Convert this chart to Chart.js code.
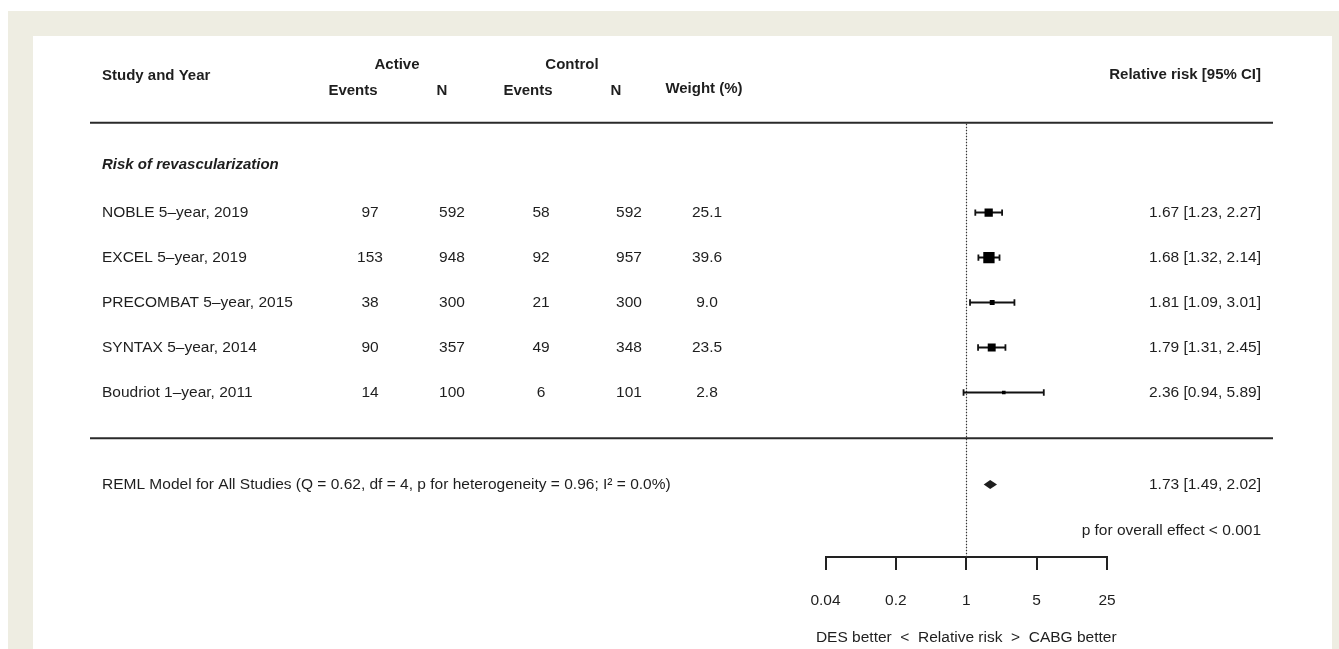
<!DOCTYPE html>
<html>
<head>
<meta charset="utf-8">
<title>Risk of revascularization</title>
<script src="https://cdn.jsdelivr.net/npm/chart.js@4.4.1/dist/chart.umd.min.js"></script>
<style>
  html, body { margin: 0; padding: 0; width: 1339px; height: 649px; overflow: hidden; background: #fff; }
  #frame { position: absolute; left: 8px; top: 11px; right: 0; bottom: 0; background: #eeede2; }
  #panel { position: absolute; left: 33px; top: 36px; width: 1299px; bottom: 0; background: #fff; }
  #wrap { position: absolute; left: 0; top: 0; width: 1339px; height: 649px; }
</style>
</head>
<body>
<div id="frame"></div>
<div id="panel"></div>
<div id="wrap"><canvas id="forest"></canvas></div>
<script>
// study data
const studies = ['NOBLE 5\u2013year, 2019', 'EXCEL 5\u2013year, 2019', 'PRECOMBAT 5\u2013year, 2015', 'SYNTAX 5\u2013year, 2014', 'Boudriot 1\u2013year, 2011'];
const activeEvents = [97, 153, 38, 90, 14];
const activeN = [592, 948, 300, 357, 100];
const controlEvents = [58, 92, 21, 49, 6];
const controlN = [592, 957, 300, 348, 101];
const weights = [25.1, 39.6, 9.0, 23.5, 2.8];
const rr = [1.67, 1.68, 1.81, 1.79, 2.36];
const rrLow = [1.23, 1.32, 1.09, 1.31, 0.94];
const rrHigh = [2.27, 2.14, 3.01, 2.45, 5.89];

// pooled estimate
const pooled = [1.73, 1.49, 2.02];
const reml = 'REML Model for All Studies (Q = 0.62, df = 4, p for heterogeneity = 0.96; I\u00b2 = 0.0%)';
const overall = 'p for overall effect < 0.001';

// axis
const tickValues = [0.04, 0.2, 1, 5, 25];
const tickLabels = ['0.04', '0.2', '1', '5', '25'];

const FONT = "'Liberation Sans', Arial, Helvetica, sans-serif";
const INK = '#1e1e1e';

const fmt = v => v.toFixed(2);

const tablePlugin = {
    id: 'forestTable',
    beforeDatasetsDraw(chart) {
        const { ctx, scales: { x, y } } = chart;
        // dotted no-effect line
        ctx.save();
        ctx.strokeStyle = '#333';
        ctx.lineWidth = 1.2;
        ctx.setLineDash([1.5, 1.5]);
        const x1 = Math.round(x.getPixelForValue(1)) + 0.5;
        ctx.beginPath();
        ctx.moveTo(x1, y.getPixelForValue(-1) + 1);
        ctx.lineTo(x1, y.bottom);
        ctx.stroke();
        ctx.restore();
    },
    afterDatasetsDraw(chart) {
        const { ctx, scales: { x, y } } = chart;
        const row = r => y.getPixelForValue(r);

        const text = (s, px, r, align, font) => {
            ctx.font = font || `15.5px ${FONT}`;
            ctx.textAlign = align || 'left';
            ctx.fillText(s, px, row(r));
        };

        ctx.save();
        ctx.fillStyle = INK;
        ctx.textBaseline = 'middle';

        const bold = `bold 15px ${FONT}`;
        // headers
        text('Study and Year', 102, -2.04, 'left', bold);
        text('Active', 397, -2.28, 'center', bold);
        text('Control', 572, -2.28, 'center', bold);
        text('Events', 353, -1.71, 'center', bold);
        text('N', 442, -1.71, 'center', bold);
        text('Events', 528, -1.71, 'center', bold);
        text('N', 616, -1.71, 'center', bold);
        text('Weight (%)', 704, -1.75, 'center', bold);
        text('Relative risk [95% CI]', 1261, -2.06, 'right', bold);

        // rules
        ctx.strokeStyle = '#2a2a2a';
        ctx.lineWidth = 2;
        [-1, 6.02].forEach(r => {
            ctx.beginPath();
            ctx.moveTo(90, row(r));
            ctx.lineTo(1273, row(r));
            ctx.stroke();
        });

        text('Risk of revascularization', 102, -0.06, 'left', `italic bold 15px ${FONT}`);

        studies.forEach((name, i) => {
            const r = i + 1;
            text(name, 102, r);
            text(String(activeEvents[i]), 370, r, 'center');
            text(String(activeN[i]), 452, r, 'center');
            text(String(controlEvents[i]), 541, r, 'center');
            text(String(controlN[i]), 629, r, 'center');
            text(weights[i].toFixed(1), 707, r, 'center');
            text(`${fmt(rr[i])} [${fmt(rrLow[i])}, ${fmt(rrHigh[i])}]`, 1261, r, 'right');
        });

        // pooled row
        text(reml, 102, 7.05);
        text(`${fmt(pooled[0])} [${fmt(pooled[1])}, ${fmt(pooled[2])}]`, 1261, 7.05, 'right');
        text(overall, 1261, 8.07, 'right');

        const yp = row(7.05);
        ctx.beginPath();
        ctx.moveTo(x.getPixelForValue(pooled[1]), yp);
        ctx.lineTo(x.getPixelForValue(pooled[0]), yp - 4.5);
        ctx.lineTo(x.getPixelForValue(pooled[2]), yp);
        ctx.lineTo(x.getPixelForValue(pooled[0]), yp + 4.5);
        ctx.closePath();
        ctx.fill();

        // axis caption
        ctx.font = `15.5px ${FONT}`;
        ctx.textAlign = 'center';
        ctx.fillText('DES better  <  Relative risk  >  CABG better', x.getPixelForValue(1), y.bottom + 81);
        ctx.restore();
    }
};

// confidence interval whiskers, one line per study
const whiskers = studies.map((name, i) => ({
    type: 'line',
    label: name,
    data: [{ x: rrLow[i], y: i + 1 }, { x: rrHigh[i], y: i + 1 }],
    borderColor: '#111',
    borderWidth: 2,
    pointStyle: 'line',
    pointRotation: 90,
    pointRadius: 3.2,
    pointBorderWidth: 1.8,
    pointBorderColor: '#111'
}));

new Chart(document.getElementById('forest'), {
    type: 'scatter',
    data: {
        datasets: [{
            label: 'Relative risk',
            data: rr.map((v, i) => ({ x: v, y: i + 1 })),
            pointStyle: 'rect',
            pointRadius: weights.map(w => (3 + 0.21 * w) / Math.SQRT2),
            backgroundColor: '#000',
            borderColor: '#000',
            borderWidth: 0
        }, ...whiskers]
    },
    options: {
        responsive: true,
        maintainAspectRatio: false,
        animation: false,
        events: [],
        layout: { padding: { left: 825.5, right: 232, top: 122.7, bottom: 0 } },
        plugins: { legend: { display: false }, tooltip: { enabled: false } },
        scales: {
            x: {
                type: 'logarithmic',
                position: 'bottom',
                min: tickValues[0],
                max: tickValues[tickValues.length - 1],
                afterBuildTicks: s => { s.ticks = tickValues.map(v => ({ value: v })); },
                afterFit: s => { s.height = 92; },
                grid: { drawOnChartArea: false, drawTicks: true, tickLength: 13, color: '#222', lineWidth: 2 },
                border: { display: true, color: '#222', width: 2 },
                ticks: {
                    autoSkip: false,
                    maxRotation: 0,
                    padding: 21,
                    color: INK,
                    font: { family: FONT, size: 15.5 },
                    callback: (v, i) => tickLabels[i]
                }
            },
            y: {
                type: 'linear',
                reverse: true,
                min: -1,
                max: 8.66,
                display: false
            }
        }
    },
    plugins: [tablePlugin]
});
</script>
</body>
</html>
